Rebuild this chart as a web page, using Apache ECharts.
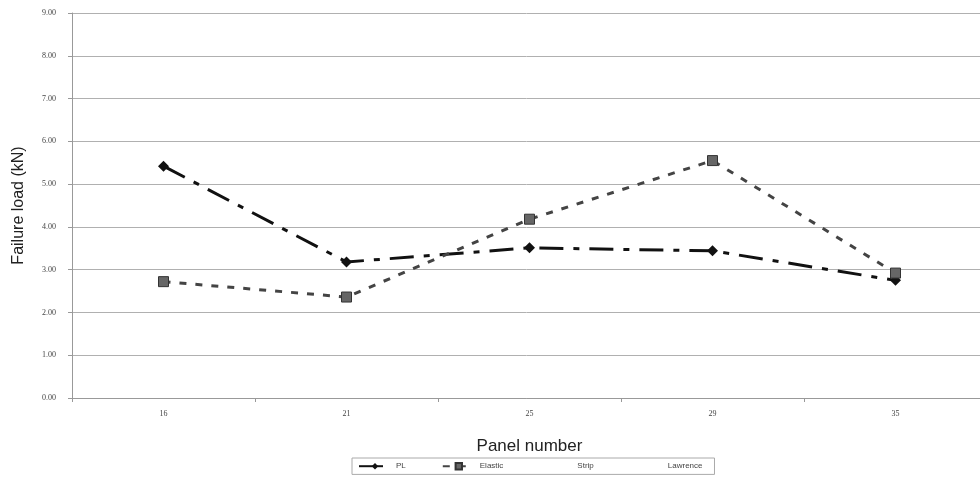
<!DOCTYPE html>
<html><head><meta charset="utf-8">
<script src="https://cdn.jsdelivr.net/npm/echarts@6/dist/echarts.min.js"></script>
<style>html,body{margin:0;padding:0;background:#fff}#c{width:980px;height:483px}</style>
</head><body><div id="c"></div>
<script>
const categories = ["16", "21", "25", "29", "35"];
const plValues = [5.42, 3.18, 3.51, 3.44, 2.75];
const elasticValues = [2.72, 2.36, 4.18, 5.55, 2.92];
const stripValues = [];
const lawrenceValues = [];
const yTicks = [0, 1, 2, 3, 4, 5, 6, 7, 8, 9];

const chart = echarts.init(document.getElementById('c'));
chart.setOption({
  animation: false,
  backgroundColor: '#fff',
  grid: { left: 72, top: 13, width: 915, height: 385, outerBoundsMode: 'none', containLabel: false },
  xAxis: {
    type: 'category', data: categories, boundaryGap: true,
    axisLine: { lineStyle: { color: '#999', width: 1 } },
    axisTick: { show: true, alignWithLabel: false, length: 4, lineStyle: { color: '#999' } },
    axisLabel: { color: '#444', fontSize: 8, fontFamily: 'Liberation Serif', margin: 12 },
    name: 'Panel number', nameLocation: 'middle', nameGap: 40,
    nameTextStyle: { fontSize: 17, color: '#222', fontFamily: 'Liberation Sans' }
  },
  yAxis: {
    type: 'value', min: 0, max: 9, interval: 1,
    axisLine: { show: true, lineStyle: { color: '#999' } },
    axisTick: { show: true, length: 4, lineStyle: { color: '#999' } },
    axisLabel: { color: '#444', fontSize: 8, fontFamily: 'Liberation Serif', margin: 16,
      formatter: v => yTicks.includes(v) ? v.toFixed(2) : '' },
    splitLine: { lineStyle: { color: '#b0b0b0', width: 1 } },
    name: 'Failure load (kN)', nameLocation: 'middle', nameGap: 45, nameRotate: 90,
    nameTextStyle: { fontSize: 16, color: '#222', fontFamily: 'Liberation Sans' }
  },
  legend: {
    left: 352, top: 458, width: 360,
    backgroundColor: '#fff', borderColor: '#aaa', borderWidth: 1, padding: [4, 12, 4, 6],
    itemWidth: 32, itemHeight: 8, itemGap: 36,
    textStyle: { fontSize: 8, color: '#444', fontFamily: 'Liberation Sans' },
    data: ['PL', 'Elastic', 'Strip', 'Lawrence']
  },
  series: [
    { name: 'PL', type: 'line', data: plValues,
      symbol: 'diamond', symbolSize: 11,
      itemStyle: { color: '#111' },
      lineStyle: { color: '#111', width: 3, type: [24, 10, 6, 10] } },
    { name: 'Elastic', type: 'line', data: elasticValues,
      symbol: 'rect', symbolSize: 10,
      itemStyle: { color: '#666', borderColor: '#333', borderWidth: 1 },
      lineStyle: { color: '#444', width: 3, type: [7, 9] } },
    { name: 'Strip', type: 'line', data: stripValues, symbol: 'none',
      itemStyle: { color: 'rgba(0,0,0,0)' }, lineStyle: { color: 'rgba(0,0,0,0)' } },
    { name: 'Lawrence', type: 'line', data: lawrenceValues, symbol: 'none',
      itemStyle: { color: 'rgba(0,0,0,0)' }, lineStyle: { color: 'rgba(0,0,0,0)' } }
  ]
});
</script></body></html>
